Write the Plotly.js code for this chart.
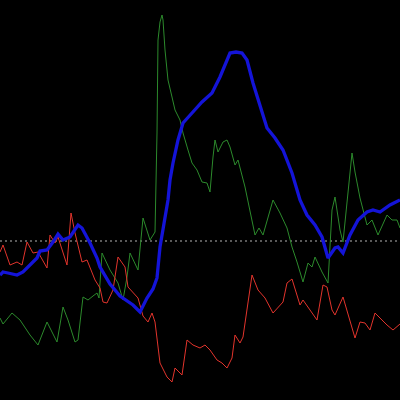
<!DOCTYPE html>
<html>
<head>
<meta charset="utf-8">
<script src="https://cdn.plot.ly/plotly-3.0.1.min.js"></script>
<style>html,body{margin:0;padding:0;background:#000;}#chart{width:400px;height:400px;}</style>
</head>
<body>
<div id="chart"></div>
<script>
// Values are relative to the dotted reference level (0)
const greenT = [0,3,12,20,30,38,47,57,63,68,75,78,83,88,93,97,99,102,110,118,123,127,130,138,143,150,155,157,158,160,162,163,165,168,172,175,180,183,188,192,197,202,207,210,213,215,218,223,227,230,235,238,245,255,259,263,273,280,287,292,297,303,308,312,315,322,328,332,335,340,343,352,355,360,367,372,378,387,392,397,400];
const greenV = [-77,-83,-72,-79,-94,-104,-81,-101,-66,-79,-101,-99,-56,-59,-55,-52,-57,-12,-29,-42,-59,-36,-12,-29,23,1,9,108,201,219,226,221,191,161,144,131,121,108,91,78,71,59,58,49,84,101,89,99,101,94,76,81,54,6,13,6,41,28,13,-6,-21,-41,-22,-26,-16,-31,-42,31,44,11,-1,88,69,43,16,21,6,26,21,21,13];

const redT = [0,3,10,17,22,27,33,38,47,50,55,58,67,71,75,82,87,95,100,103,107,113,118,125,128,138,143,148,152,155,160,167,172,175,182,187,193,200,205,210,217,222,227,232,235,240,243,252,258,265,273,278,283,287,292,300,303,310,317,323,327,332,335,343,355,360,365,370,375,387,393,400];
const redV = [-11,-4,-24,-21,-24,-1,-12,-11,-27,6,-2,4,-24,28,8,-21,-19,-39,-47,-61,-62,-49,-16,-26,-46,-57,-75,-81,-72,-81,-122,-136,-141,-127,-134,-99,-104,-107,-104,-109,-119,-122,-127,-117,-94,-102,-96,-34,-49,-57,-72,-66,-61,-42,-38,-64,-59,-69,-79,-44,-46,-69,-74,-56,-97,-81,-82,-89,-72,-84,-89,-83];

const blueT = [0,3,8,17,23,30,37,40,47,53,58,63,70,78,82,90,97,100,110,120,128,133,140,142,147,153,157,160,165,168,170,173,178,183,192,202,212,220,230,236,242,247,253,262,267,275,283,292,300,307,315,322,328,335,338,343,350,358,367,373,380,390,400];
const blueV = [-34,-31,-32,-34,-31,-24,-17,-10,-9,-1,7,1,4,16,13,-2,-17,-26,-43,-55,-60,-64,-71,-67,-57,-48,-37,-6,24,41,61,78,101,118,128,139,148,164,188,189,188,181,158,129,113,103,91,68,41,26,16,4,-17,-7,-6,-12,6,21,29,31,29,36,41];

const refLevel = 0;

const data = [
  {x: greenT, y: greenV, type: 'scatter', mode: 'lines', line: {color: '#2c8a2c', width: 1}, hoverinfo: 'skip'},
  {x: redT, y: redV, type: 'scatter', mode: 'lines', line: {color: '#e2342c', width: 1}, hoverinfo: 'skip'},
  {x: blueT, y: blueV, type: 'scatter', mode: 'lines', line: {color: '#1414d8', width: 3.3}, hoverinfo: 'skip'}
];

const layout = {
  width: 400, height: 400,
  margin: {l: 0, r: 0, t: 0, b: 0, pad: 0},
  paper_bgcolor: '#000', plot_bgcolor: '#000',
  showlegend: false,
  xaxis: {range: [0, 400], visible: false, fixedrange: true},
  yaxis: {range: [-159, 241], visible: false, fixedrange: true},
  shapes: [{type: 'line', xref: 'paper', x0: 0, x1: 1, yref: 'y', y0: refLevel, y1: refLevel,
            line: {color: '#b4b4b4', width: 1, dash: '2px,3px'}, layer: 'below'}]
};

Plotly.newPlot('chart', data, layout, {staticPlot: true, displayModeBar: false});
</script>
</body>
</html>
